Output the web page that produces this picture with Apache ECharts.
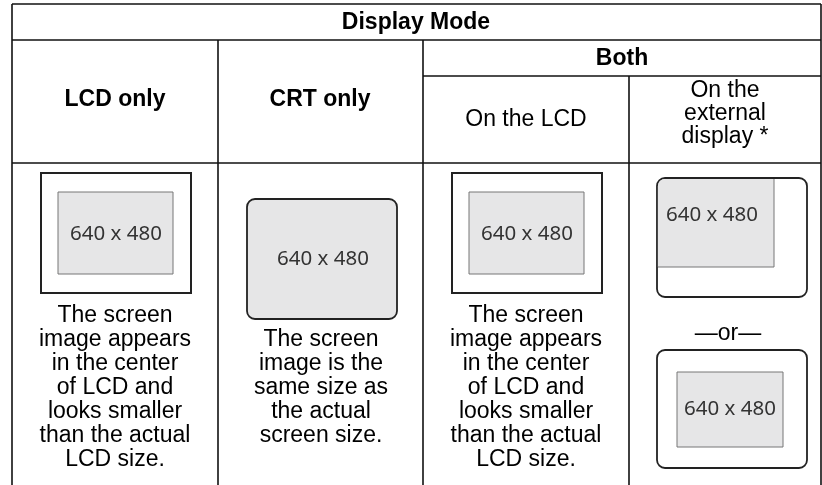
<!DOCTYPE html>
<html>
<head>
<meta charset="utf-8">
<script src="https://cdn.jsdelivr.net/npm/echarts@6/dist/echarts.min.js"></script>
<style>html,body{margin:0;padding:0;background:#fff;}#chart{width:822px;height:485px;}</style>
</head>
<body>
<div id="chart"></div>
<script>
// ---- content ----
var tableTitle = 'Display Mode';
var modeHeaders = ['LCD only', 'CRT only', 'Both'];
var bothHeaders = ['On the LCD', 'On the\nexternal\ndisplay *'];
var resolution = [640, 480];
var descriptions = [
  'The screen\nimage appears\nin the center\nof LCD and\nlooks smaller\nthan the actual\nLCD size.',
  'The screen\nimage is the\nsame size as\nthe actual\nscreen size.',
  'The screen\nimage appears\nin the center\nof LCD and\nlooks smaller\nthan the actual\nLCD size.'
];
var orLabel = '\u2014or\u2014';

// ---- drawing ----
var chart = echarts.init(document.getElementById('chart'), null, {renderer: 'canvas'});
var resText = resolution[0] + ' x ' + resolution[1];
var F = '"Liberation Sans", Arial, Helvetica, sans-serif';
var lineC = '#111';
var els = [];

function line(x1, y1, x2, y2) {
  els.push({type: 'line', shape: {x1: x1, y1: y1, x2: x2, y2: y2},
    style: {stroke: lineC, lineWidth: 1.6}, silent: true});
}
function txt(x, y, s, bold, lh) {
  els.push({type: 'text', x: x, y: y, style: {text: s, fill: '#000',
    font: (bold ? 'bold ' : '') + '23px ' + F, align: 'center', verticalAlign: 'middle',
    lineHeight: lh || 24}, silent: true});
}
function resLabel(x, y) {
  els.push({type: 'text', x: x, y: y, style: {text: resText, fill: '#333',
    font: '20.5px "Noto Sans", sans-serif', align: 'center', verticalAlign: 'middle'}, silent: true});
}
function rect(x, y, w, h, r, fill, stroke, lw) {
  els.push({type: 'rect', shape: {x: x, y: y, width: w, height: h, r: r || 0},
    style: {fill: fill, stroke: stroke, lineWidth: lw}, silent: true});
}

// table grid
line(12, 4, 821, 4);
line(12, 40, 821, 40);
line(423, 76, 821, 76);
line(12, 163, 821, 163);
line(12, 4, 12, 485);
line(821, 4, 821, 485);
line(218, 40, 218, 485);
line(423, 40, 423, 485);
line(629, 76, 629, 485);

// headers
txt(416, 23, tableTitle, true);
txt(115, 100, modeHeaders[0], true);
txt(320, 100, modeHeaders[1], true);
txt(622, 59, modeHeaders[2], true);
txt(526, 120, bothHeaders[0], false);
txt(725, 114, bothHeaders[1], false, 23);

// diagrams
var gray = '#e6e6e7';
// LCD only
rect(41, 173, 150, 120, 0, '#fff', '#222', 2);
rect(58, 192, 115, 82, 0, gray, '#777', 1);
resLabel(116, 234);
// CRT only
rect(247, 199, 150, 120, 8, gray, '#222', 1.8);
resLabel(323, 259);
// On the LCD
rect(452, 173, 150, 120, 0, '#fff', '#222', 2);
rect(469, 192, 115, 82, 0, gray, '#777', 1);
resLabel(527, 234);
// External top
rect(657, 178, 150, 119, 8, '#fff', '#222', 1.8);
els.push({type: 'rect', shape: {x: 657.9, y: 178.9, width: 116, height: 88, r: [7, 0, 0, 0]},
  style: {fill: gray}, silent: true});
els.push({type: 'polyline', shape: {points: [[774, 179], [774, 267], [658, 267]]},
  style: {stroke: '#777', lineWidth: 1, fill: null}, silent: true});
resLabel(712, 215);
// or
txt(728, 334, orLabel, false);
// External bottom
rect(657, 350, 150, 118, 8, '#fff', '#222', 1.8);
rect(677, 372, 106, 75, 0, gray, '#777', 1);
resLabel(730, 409);

// descriptions
txt(115, 388, descriptions[0], false);
txt(321, 388, descriptions[1], false);
txt(526, 388, descriptions[2], false);

chart.setOption({
  backgroundColor: '#fff',
  animation: false,
  graphic: {elements: els}
});
</script>
</body>
</html>
